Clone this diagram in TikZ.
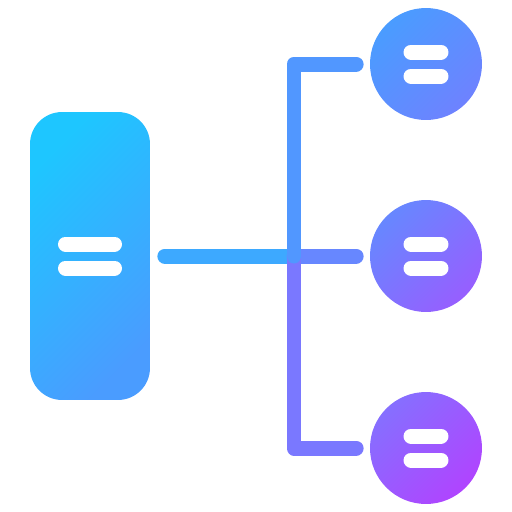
\documentclass[tikz,border=0pt]{standalone}
\usepackage{tikz}

\definecolor{cyantop}{HTML}{1EC6FF}
\definecolor{bluemid}{HTML}{4A9CFF}
\definecolor{bluelow}{HTML}{6E82FF}
\definecolor{violet}{HTML}{8C6AFF}
\definecolor{purpend}{HTML}{B044FF}

\begin{document}
\begin{tikzpicture}[x=0.02cm, y=-0.02cm,
  box/.style={shade, top color=cyantop, bottom color=bluemid, shading angle=45,
    rounded corners=0.64cm, minimum width=2.4cm, minimum height=5.76cm, inner sep=0pt},
  leaf/.style={circle, shade, inner sep=0pt, minimum size=2.24cm},
  link/.style={line width=0.3cm, line cap=round, line join=round},
  bar/.style={white, line width=0.3cm, line cap=round}]

\useasboundingbox (0,0) rectangle (512,512);

% the tall block on the left
\node[box] (main) at (90,256) {};

% the three round leaves
\node[leaf, top color=bluemid, bottom color=bluelow, shading angle=45] (c1) at (426,64) {};
\node[leaf, top color=bluelow!80!bluemid, bottom color=violet!70!purpend, shading angle=45] (c2) at (426,256) {};
\node[leaf, top color=violet!80!bluelow, bottom color=purpend, shading angle=45] (c3) at (426,448) {};

\coordinate (spine) at (294,256);

% middle connector
\draw[link, color=bluemid!70!cyantop, shorten <=0.29cm] (main) -- (spine);
\draw[link, color=bluelow!80!bluemid, shorten >=0.27cm] (spine) -- (c2);

% bracket
\draw[link, color=bluelow!60!violet, shorten >=0.27cm] (spine) |- (c3);
\draw[link, color=bluemid!80!bluelow, shorten <=0.27cm] (c1) -| (spine);

% white bars
\draw[bar] (main.center) ++(-24.5,-12) -- ++(49,0); \draw[bar] (main.center) ++(-24.5,12) -- ++(49,0);
\draw[bar] (c1.center) ++(-15,-12) -- ++(30,0); \draw[bar] (c1.center) ++(-15,12) -- ++(30,0);
\draw[bar] (c2.center) ++(-15,-12) -- ++(30,0); \draw[bar] (c2.center) ++(-15,12) -- ++(30,0);
\draw[bar] (c3.center) ++(-15,-12) -- ++(30,0); \draw[bar] (c3.center) ++(-15,12) -- ++(30,0);

\end{tikzpicture}
\end{document}
